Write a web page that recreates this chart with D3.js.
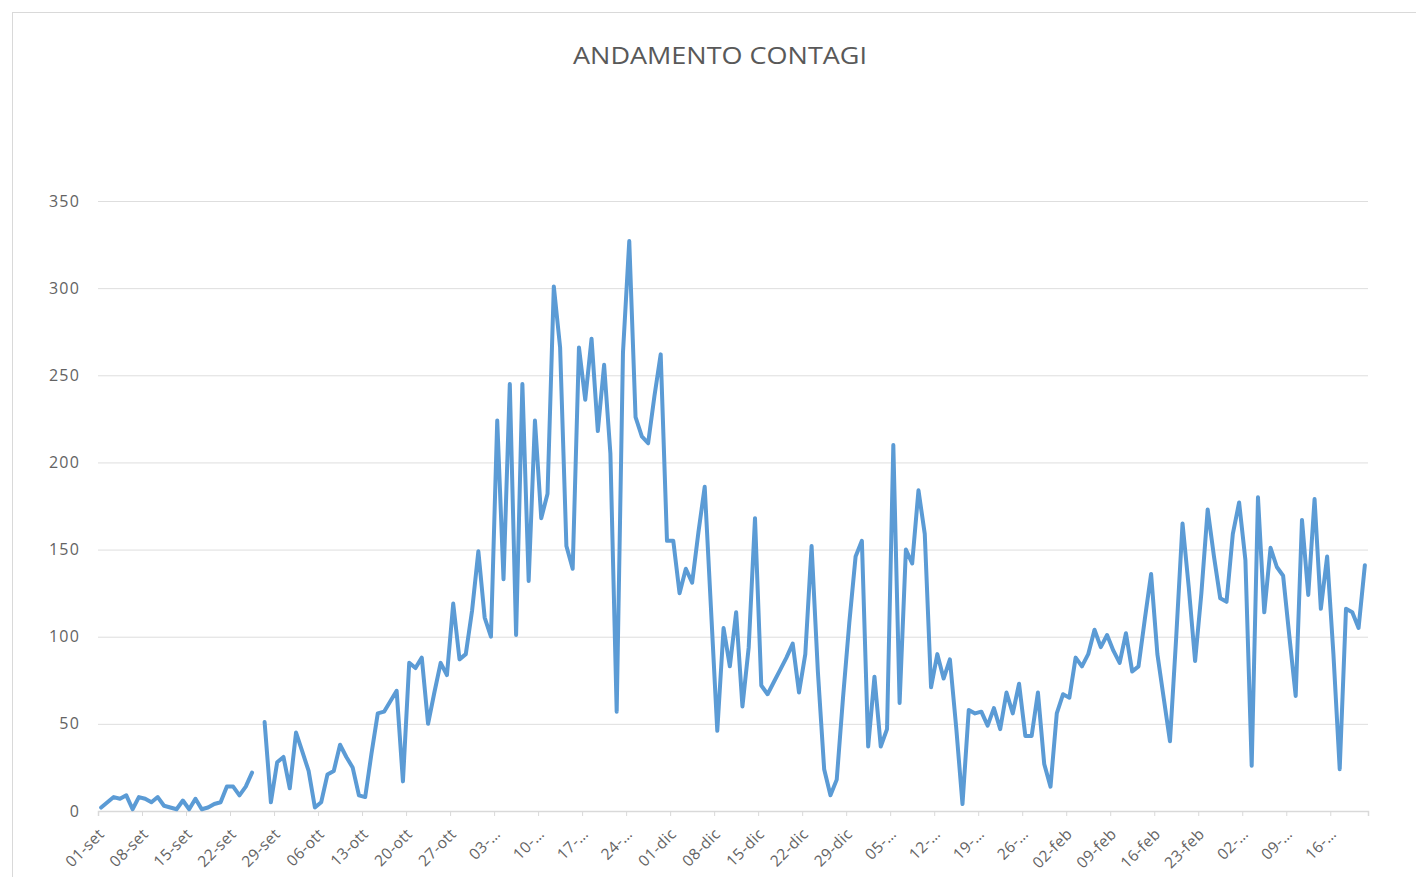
<!DOCTYPE html>
<html>
<head>
<meta charset="utf-8">
<script src="https://cdn.jsdelivr.net/npm/d3@7"></script>
<style>
  html, body { margin: 0; padding: 0; background: #fff; }
  svg { display: block; font-family: "Open Sans", "Liberation Sans", sans-serif; }
</style>
</head>
<body>
<svg id="chart" width="1416" height="877"></svg>
<script>
const title = "ANDAMENTO CONTAGI";

// daily cases, 01-set .. 22-mar (null = missing day)
const contagi = [
    2, 5, 8, 7, 9, 1, 8, 7, 5, 8,
    3, 2, 1, 6, 1, 7, 1, 2, 4, 5,
    14, 14, 9, 14, 22, null, 51, 5, 28, 31,
    13, 45, 34, 23, 2, 5, 21, 23, 38, 31,
    25, 9, 8, 33, 56, 57, 63, 69, 17, 85,
    82, 88, 50, 68, 85, 78, 119, 87, 90, 115,
    149, 111, 100, 224, 133, 245, 101, 245, 132, 224,
    168, 182, 301, 266, 152, 139, 266, 236, 271, 218,
    256, 205, 57, 263, 327, 226, 215, 211, 238, 262,
    155, 155, 125, 139, 131, 160, 186, 116, 46, 105,
    83, 114, 60, 94, 168, 72, 67, 74, 81, 88,
    96, 68, 90, 152, 80, 24, 9, 18, 65, 108,
    146, 155, 37, 77, 37, 47, 210, 62, 150, 142,
    184, 159, 71, 90, 76, 87, 48, 4, 58, 56,
    57, 49, 59, 47, 68, 56, 73, 43, 43, 68,
    27, 14, 56, 67, 65, 88, 83, 90, 104, 94,
    101, 92, 85, 102, 80, 83, 110, 136, 90, 65,
    40, 100, 165, 128, 86, 125, 173, 146, 122, 120,
    159, 177, 144, 26, 180, 114, 151, 140, 135, 100,
    66, 167, 124, 179, 116, 146, 90, 24, 116, 114,
    105, 141
];

// one label every 7 days, starting at 01-set
const dateLabels = [
    "01-set", "08-set", "15-set", "22-set", "29-set",
    "06-ott", "13-ott", "20-ott", "27-ott",
    "03-…", "10-…", "17-…", "24-…",
    "01-dic", "08-dic", "15-dic", "22-dic", "29-dic",
    "05-…", "12-…", "19-…", "26-…",
    "02-feb", "09-feb", "16-feb", "23-feb",
    "02-…", "09-…", "16-…"
];

const yTicks = [0, 50, 100, 150, 200, 250, 300, 350];

const svg = d3.select("#chart");
const plotLeft = 98, plotRight = 1368, plotTop = 201, plotBottom = 811;

// chart frame
svg.append("rect")
    .attr("x", 12.5).attr("y", 12.5)
    .attr("width", 1430).attr("height", 900)
    .attr("fill", "none").attr("stroke", "#d9d9d9");

svg.append("text")
    .attr("x", 720).attr("y", 64)
    .attr("text-anchor", "middle")
    .attr("font-size", 24)
    .attr("textLength", 294)
    .attr("lengthAdjust", "spacingAndGlyphs")
    .attr("fill", "#595959")
    .text(title);

const x = d3.scaleLinear().domain([-0.5, contagi.length - 0.5]).range([plotLeft, plotRight]);
const y = d3.scaleLinear().domain([0, 350]).range([plotBottom, plotTop]);

// horizontal gridlines + y labels
const yAxis = svg.append("g")
    .attr("transform", `translate(${plotLeft},0)`)
    .call(d3.axisLeft(y).tickValues(yTicks).tickSize(-(plotRight - plotLeft)).tickPadding(18));
yAxis.select(".domain").remove();
yAxis.selectAll(".tick line").attr("stroke", "#dedede");
yAxis.selectAll(".tick text")
    .attr("fill", "#636363")
    .attr("font-size", 16)
    .attr("letter-spacing", 1.2)
    .attr("font-family", "Open Sans, sans-serif");

// x axis: tick marks on week boundaries
const weekTicks = dateLabels.map((_, k) => k * 7 - 0.5);
const xAxis = svg.append("g")
    .attr("transform", `translate(0,${plotBottom})`)
    .call(d3.axisBottom(x).tickValues(weekTicks).tickSize(5).tickFormat(""));
xAxis.select(".domain").attr("stroke", "#d9d9d9").attr("stroke-width", 1.5);
xAxis.selectAll(".tick line").attr("stroke", "#d9d9d9");

svg.append("g")
    .selectAll("text")
    .data(dateLabels)
    .enter()
    .append("text")
    .attr("transform", (d, k) => `translate(${x(k * 7) + 4},${plotBottom + 24}) rotate(-45)`)
    .attr("text-anchor", "end")
    .attr("font-size", 15.5)
    .attr("letter-spacing", 0.4)
    .attr("fill", "#636363")
    .text(d => d);

const line = d3.line()
    .defined(d => d != null)
    .x((d, i) => x(i))
    .y(d => y(d));

svg.append("path")
    .datum(contagi)
    .attr("d", line)
    .attr("fill", "none")
    .attr("stroke", "#5b9bd5")
    .attr("stroke-width", 4)
    .attr("stroke-linejoin", "round")
    .attr("stroke-linecap", "round");
</script>
</body>
</html>
